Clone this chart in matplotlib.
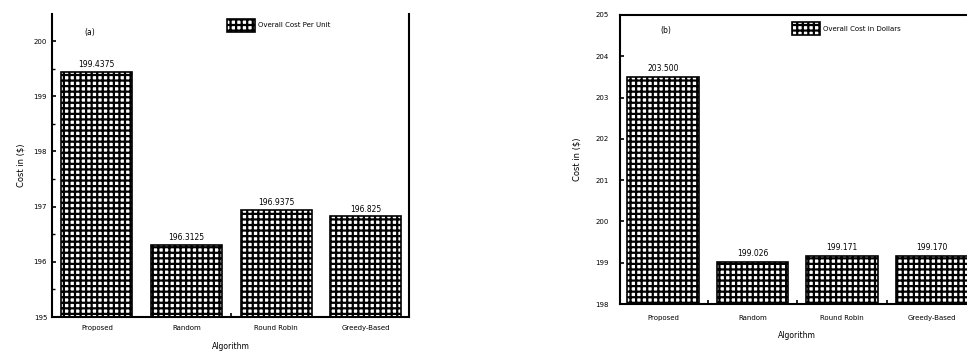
import numpy as np
import matplotlib.pyplot as plt

# data
algorithms = ["Proposed", "Random", "Round Robin", "Greedy-Based"]
cost_a = [199.4375, 196.3125, 196.9375, 196.825]
cost_b = [203.500, 199.026, 199.171, 199.170]
labels_a = ["199.4375", "196.3125", "196.9375", "196.825"]
labels_b = ["203.500", "199.026", "199.171", "199.170"]
ticks_a = [195, 196, 197, 198, 199, 200]
ticks_b = [198, 199, 200, 201, 202, 203, 204, 205]

plt.rcParams['hatch.linewidth'] = 1.6
plt.rcParams['font.family'] = 'DejaVu Sans'

fig = plt.figure(figsize=(9.67, 3.54), dpi=100)

# =============================
# (a) left panel
# =============================
ax1 = fig.add_axes([0.0538, 0.1045, 0.369, 0.856])
x = np.arange(len(algorithms))
bars = ax1.bar(x, cost_a, width=0.79, bottom=0, color='white', edgecolor='black',
               hatch='+++', linewidth=1.2, label='Overall Cost Per Unit')
for b, t in zip(bars, labels_a):
    ax1.text(b.get_x() + b.get_width() / 2, b.get_height() + 0.05, t,
             ha='center', va='bottom', fontsize=5.5)
ax1.set_ylim(195, 200.49)
ax1.set_xlim(-0.5, 3.48)
ax1.set_yticks(ticks_a)
ax1.set_yticks(np.arange(195.5, 200.5, 1), minor=True)
ax1.set_xticks(x)
ax1.set_xticklabels(algorithms, fontsize=5)
ax1.set_xticks([1.5], minor=True)
ax1.tick_params(axis='y', labelsize=5, direction='in', length=3, width=1.2)
ax1.tick_params(axis='y', which='minor', direction='in', length=2, width=1)
ax1.tick_params(axis='x', which='major', length=0, pad=6)
ax1.tick_params(axis='x', which='minor', direction='in', length=3, width=1.2)
ax1.spines['top'].set_visible(False)
for s in ['left', 'bottom', 'right']:
    ax1.spines[s].set_linewidth(1.5)
ax1.set_ylabel("Cost in ($)", fontsize=6, labelpad=6)
ax1.set_xlabel("Algorithm", fontsize=5.5, labelpad=8)
ax1.text(0.09, 0.93, "(a)", transform=ax1.transAxes, fontsize=5.5)
ax1.legend(loc='upper left', bbox_to_anchor=(0.49, 0.985), frameon=False,
           borderpad=0, borderaxespad=0,
           fontsize=5, handlelength=4.0, handleheight=2.6, handletextpad=0.5)

# =============================
# (b) right panel
# =============================
ax2 = fig.add_axes([0.641, 0.141, 0.367, 0.817])
bars = ax2.bar(x, cost_b, width=0.8, bottom=0, color='white', edgecolor='black',
               hatch='+++', linewidth=1.2, label='Overall Cost in Dollars')
for b, t in zip(bars, labels_b):
    ax2.text(b.get_x() + b.get_width() / 2, b.get_height() + 0.1, t,
             ha='center', va='bottom', fontsize=5.5)
ax2.set_ylim(198, 205)
ax2.set_xlim(-0.48, 3.48)
ax2.set_yticks(ticks_b)
ax2.set_xticks(x)
ax2.set_xticklabels(algorithms, fontsize=5)
ax2.set_xticks([0.5, 1.5, 2.5], minor=True)
ax2.tick_params(axis='y', labelsize=5, direction='in', length=3, width=1.2, pad=8)
ax2.tick_params(axis='x', which='major', length=0, pad=8)
ax2.tick_params(axis='x', which='minor', direction='in', length=3, width=1.2)
for s in ['left', 'bottom', 'right', 'top']:
    ax2.spines[s].set_linewidth(1.5)
ax2.set_ylabel("Cost in ($)", fontsize=6, labelpad=10)
ax2.set_xlabel("Algorithm", fontsize=5.5, labelpad=7)
ax2.text(0.13, 0.945, "(b)", transform=ax2.transAxes, fontsize=5.5,
         ha='center', va='center')
ax2.legend(loc='upper left', bbox_to_anchor=(0.485, 0.976), frameon=False,
           borderpad=0, borderaxespad=0,
           fontsize=5, handlelength=4.0, handleheight=2.6, handletextpad=0.5)

fig.savefig("out.png", dpi=100)
